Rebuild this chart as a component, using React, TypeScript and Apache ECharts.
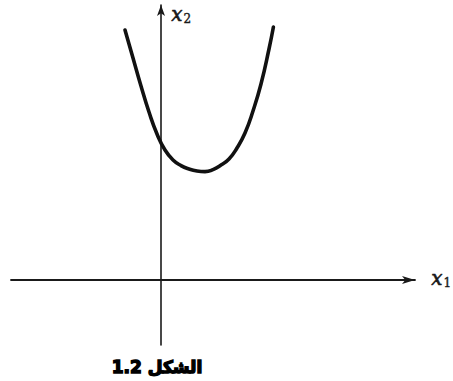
import React, { useEffect, useRef } from "react";
import * as echarts from "echarts";

// Points along the curve (x1, x2)
const curveX1: number[] = [
  -1.8, -1.4, -1.0, -0.6, -0.2, 0.2, 0.6, 1.0, 1.4, 1.8, 2.2, 2.6, 3.0, 3.4, 3.8, 4.2, 4.6, 5.0, 5.4, 5.62,
];
const curveX2: number[] = [
  12.5, 11.1, 9.7, 8.4, 7.3, 6.5, 6.0, 5.72, 5.55, 5.45, 5.42, 5.52, 5.75, 6.05, 6.6, 7.35, 8.45, 9.8, 11.55, 12.65,
];

// Visible extent of the coordinate plane
const x1Range: [number, number] = [-7.5, 12.7];
const x2Range: [number, number] = [-3.25, 13.75];

const caption = "\u202Bالشكل 1.2\u202C";

const labelRich = {
  v: {
    fontFamily: "DejaVu Serif",
    fontStyle: "italic",
    fontSize: 20,
    fill: "#1a1a1a",
    stroke: "#1a1a1a",
    lineWidth: 0.6,
  },
  s: {
    fontFamily: "DejaVu Serif",
    fontSize: 12,
    fill: "#1a1a1a",
    stroke: "#1a1a1a",
    lineWidth: 0.4,
    padding: [10, 0, 0, 1],
  },
};

export default function App() {
  const ref = useRef<HTMLDivElement>(null);

  useEffect(() => {
    if (!ref.current) return;
    const chart = echarts.init(ref.current, null, { renderer: "svg" });
    const axisLineColor = "#1a1a1a";
    chart.setOption({
      animation: false,
      backgroundColor: "#ffffff",
      grid: { left: 11, right: 38, top: 5, bottom: 36 },
      xAxis: {
        type: "value",
        min: x1Range[0],
        max: x1Range[1],
        axisLine: {
          onZero: true,
          symbol: ["none", "arrow"],
          symbolSize: [6, 13],
          lineStyle: { color: axisLineColor, width: 1.8 },
        },
        axisTick: { show: false },
        axisLabel: { show: false },
        splitLine: { show: false },
      },
      yAxis: {
        type: "value",
        min: x2Range[0],
        max: x2Range[1],
        axisLine: {
          onZero: true,
          symbol: ["none", "arrow"],
          symbolSize: [6, 11],
          lineStyle: { color: axisLineColor, width: 1.6 },
        },
        axisTick: { show: false },
        axisLabel: { show: false },
        splitLine: { show: false },
      },
      series: [
        {
          type: "line",
          data: curveX1.map((x, i) => [x, curveX2[i]]),
          smooth: 0.5,
          showSymbol: false,
          lineStyle: { color: "#111111", width: 3.6, cap: "round" },
        },
      ],
      graphic: [
        {
          type: "text",
          left: 171,
          top: 4,
          style: { text: "{v|x}{s|2}", rich: labelRich },
        },
        {
          type: "text",
          left: 431,
          top: 268,
          style: { text: "{v|x}{s|1}", rich: labelRich },
        },
        {
          type: "text",
          left: 111,
          top: 358,
          style: {
            text: caption,
            fontFamily: "DejaVu Sans",
            fontWeight: "bold",
            fontSize: 17,
            fill: "#000000",
            stroke: "#000000",
            lineWidth: 1.4,
          },
        },
      ],
    });
    return () => chart.dispose();
  }, []);

  return (
    <div
      ref={ref}
      style={{ position: "fixed", left: 0, top: 0, width: 453, height: 381 }}
    />
  );
}
